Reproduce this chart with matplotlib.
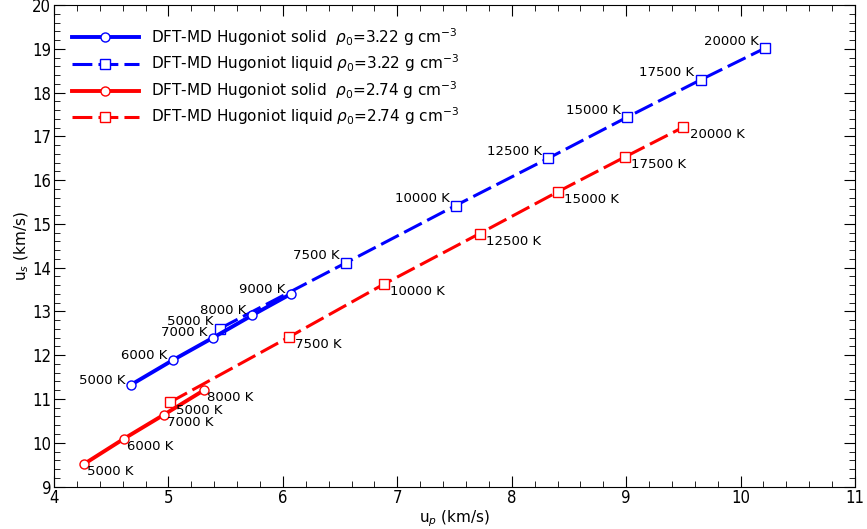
import numpy as np
import matplotlib.pyplot as plt

# Hugoniot data, rho0 = 3.22 g/cm3
up_sol_322 = [4.67, 5.04, 5.39, 5.73, 6.07]
us_sol_322 = [11.32, 11.89, 12.40, 12.91, 13.40]
T_sol_322 = ['5000 K', '6000 K', '7000 K', '8000 K', '9000 K']

up_liq_322 = [5.45, 6.55, 7.51, 8.32, 9.01, 9.65, 10.21]
us_liq_322 = [12.61, 14.11, 15.42, 16.50, 17.44, 18.29, 19.01]
T_liq_322 = ['5000 K', '7500 K', '10000 K', '12500 K', '15000 K', '17500 K', '20000 K']

# Hugoniot data, rho0 = 2.74 g/cm3
up_sol_274 = [4.26, 4.61, 4.96, 5.31]
us_sol_274 = [9.51, 10.09, 10.64, 11.20]
T_sol_274 = ['5000 K', '6000 K', '7000 K', '8000 K']

up_liq_274 = [5.01, 6.05, 6.88, 7.72, 8.40, 8.99, 9.50]
us_liq_274 = [10.92, 12.41, 13.62, 14.78, 15.73, 16.53, 17.21]
T_liq_274 = ['5000 K', '7500 K', '10000 K', '12500 K', '15000 K', '17500 K', '20000 K']

fig = plt.figure(figsize=(8.67, 5.29), dpi=100)
ax = fig.add_axes([0.0623, 0.0803, 0.9239, 0.9102])

dash = (6.5, 2.0)
ax.plot(up_sol_322, us_sol_322, '-o', color='blue', lw=2.8, ms=6.5, mfc='white', mew=1,
        label=r'DFT-MD Hugoniot solid  $\rho_0$=3.22 g cm$^{-3}$', zorder=3)
ax.plot(up_liq_322, us_liq_322, '--s', color='blue', lw=2.2, ms=6.5, mfc='white', mew=1,
        dashes=dash, label=r'DFT-MD Hugoniot liquid $\rho_0$=3.22 g cm$^{-3}$')
ax.plot(up_sol_274, us_sol_274, '-o', color='red', lw=2.8, ms=6.5, mfc='white', mew=1,
        label=r'DFT-MD Hugoniot solid  $\rho_0$=2.74 g cm$^{-3}$', zorder=3)
ax.plot(up_liq_274, us_liq_274, '--s', color='red', lw=2.2, ms=6.5, mfc='white', mew=1,
        dashes=dash, label=r'DFT-MD Hugoniot liquid $\rho_0$=2.74 g cm$^{-3}$')

# temperature annotations
fs = 9.5
for x, y, t in zip(up_sol_322, us_sol_322, T_sol_322):
    ax.annotate(t, (x, y), xytext=(-4, 3.5), textcoords='offset points',
                ha='right', va='center', fontsize=fs)
for x, y, t in zip(up_liq_322, us_liq_322, T_liq_322):
    ax.annotate(t, (x, y), xytext=(-4.5, 5), textcoords='offset points',
                ha='right', va='center', fontsize=fs)
for x, y, t in zip(up_sol_274, us_sol_274, T_sol_274):
    ax.annotate(t, (x, y), xytext=(2.5, -5.5), textcoords='offset points',
                ha='left', va='center', fontsize=fs)
for x, y, t in zip(up_liq_274, us_liq_274, T_liq_274):
    ax.annotate(t, (x, y), xytext=(4.5, -5.5), textcoords='offset points',
                ha='left', va='center', fontsize=fs)

ax.set_xlim(4, 11)
ax.set_ylim(9, 20)
ax.set_xticks(np.arange(4, 12, 1))
ax.set_yticks(np.arange(9, 21, 1))
ax.set_xticks(np.arange(4, 11.01, 0.2), minor=True)
ax.set_yticks(np.arange(9, 20.01, 0.2), minor=True)
ax.tick_params(which='both', direction='in', top=True, right=True, labelsize=12, pad=2)
ax.tick_params(which='major', length=8)
ax.tick_params(which='minor', length=4)
for lab in ax.get_xticklabels() + ax.get_yticklabels():
    lab.set_fontstretch('condensed')

ax.set_xlabel(r'u$_p$ (km/s)', fontsize=11, labelpad=1)
ax.set_ylabel(r'u$_s$ (km/s)', fontsize=11, labelpad=1)

ax.legend(loc='upper left', bbox_to_anchor=(0.005, 0.985), frameon=False, fontsize=11,
          handlelength=4.4, handletextpad=0.8, labelspacing=0.32)

fig.savefig('out.png', dpi=100)
